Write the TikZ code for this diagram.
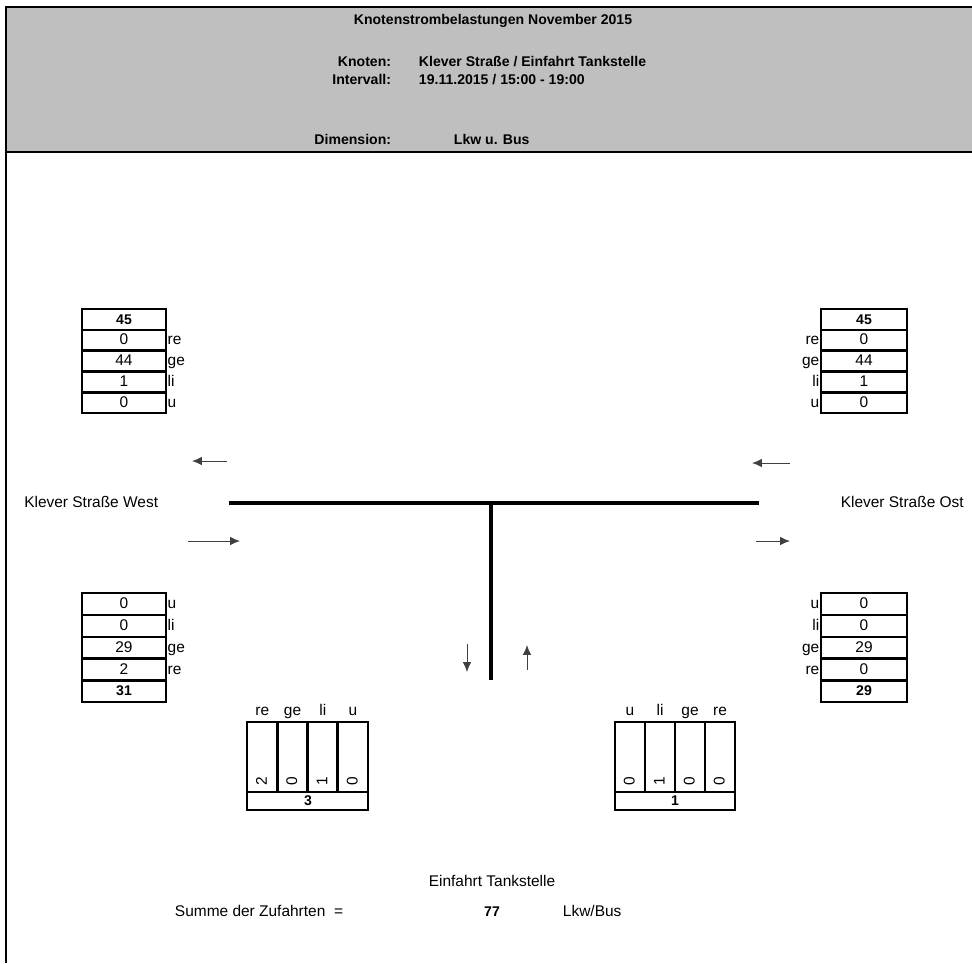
\documentclass[tikz,border=0pt]{standalone}
\usepackage{fontspec}
\setmainfont{Liberation Sans}
\usetikzlibrary{arrows,arrows.meta,positioning,calc}

\begin{document}
\begin{tikzpicture}[x=0.025cm, y=-0.025cm,
    font=\fontsize{11}{13}\selectfont,
    every node/.style={text height=1.55ex, text depth=0.3ex},
    frame/.style={line width=1.8pt},
    cell/.style={line width=1.8pt},
    road/.style={line width=3.2pt},
    flow/.style={-{Latex[length=7pt,width=6pt]}, black!75, line width=0.7pt}]
    \useasboundingbox (0,0) rectangle (972,963);

    % Header
    \fill[gray!50] (6,7) rectangle (972,152);
    \draw[frame] (972,7) -- (6,7) -- (6,963);
    \draw[frame] (6,152) -- (972,152);
    \node[font=\bfseries] (title) at (493,20) {Knotenstrombelastungen November 2015};
    \node[anchor=east, font=\bfseries] (knoten) at (396,62) {Knoten:};
    \node[anchor=west, font=\bfseries] (knotenval) at (414,62) {Klever Straße / Einfahrt Tankstelle};
    \node[anchor=east, font=\bfseries] (intervall) at (396,80) {Intervall:};
    \node[anchor=west, font=\bfseries] (intervallval) at (414,80) {19.11.2015 / 15:00 - 19:00};
    \node[anchor=east, font=\bfseries] (dimension) at (396,140) {Dimension:};
    \node[anchor=west, font=\bfseries] (dimensionval) at (449,140) {Lkw u. Bus};

    % Roads
    \draw[road] (229,503) -- (759,503);
    \draw[road] (491,503) -- (491,680);
    \node[anchor=west, inner sep=0pt] (west) at (24,503) {Klever Straße West};
    \node[anchor=east, inner sep=0pt] (ost) at (964,503) {Klever Straße Ost};
    \node (tankstelle) at (492,882) {Einfahrt Tankstelle};

    % Direction arrows
    \draw[flow] (227,461) -- (192,461);
    \draw[flow] (188,541) -- (240,541);
    \draw[flow] (790,463) -- (752,463);
    \draw[flow] (756,541) -- (790,541);
    \draw[flow] (467,644) -- (467,672);
    \draw[flow] (527,670) -- (527,645);

    % West approach, top (outgoing)
    \draw[cell] (82,309) rectangle (166,330);
    \node[font=\bfseries] (wOut) at (124,319.5) {45};
    \foreach \v/\l [count=\i] in {0/re,44/ge,1/li,0/u} {
        \draw[cell] (82,309+20.8*\i) rectangle (166,330+20.8*\i);
        \node at (124,319.5+20.8*\i) {\v};
        \node[anchor=west, inner sep=1pt] at (166,319.5+20.8*\i) {\l};
    }

    % East approach, top (outgoing)
    \draw[cell] (821,309) rectangle (907,330);
    \node[font=\bfseries] (oOut) at (864,319.5) {45};
    \foreach \v/\l [count=\i] in {0/re,44/ge,1/li,0/u} {
        \draw[cell] (821,309+20.8*\i) rectangle (907,330+20.8*\i);
        \node at (864,319.5+20.8*\i) {\v};
        \node[anchor=east, inner sep=1pt] at (821,319.5+20.8*\i) {\l};
    }

    % West approach, bottom (incoming)
    \foreach \v/\l [count=\i] in {0/u,0/li,29/ge,2/re} {
        \draw[cell] (82,571.4+21.8*\i) rectangle (166,593.2+21.8*\i);
        \node at (124,582.3+21.8*\i) {\v};
        \node[anchor=west, inner sep=1pt] at (166,582.3+21.8*\i) {\l};
    }
    \draw[cell] (82,680.4) rectangle (166,702);
    \node[font=\bfseries] (wIn) at (124,691) {31};

    % East approach, bottom (incoming)
    \foreach \v/\l [count=\i] in {0/u,0/li,29/ge,0/re} {
        \draw[cell] (821,571.4+21.8*\i) rectangle (907,593.2+21.8*\i);
        \node at (864,582.3+21.8*\i) {\v};
        \node[anchor=east, inner sep=1pt] at (821,582.3+21.8*\i) {\l};
    }
    \draw[cell] (821,680.4) rectangle (907,702);
    \node[font=\bfseries] (oIn) at (864,691) {29};

    % Tankstelle, outgoing
    \foreach \v/\l [count=\i] in {2/re,0/ge,1/li,0/u} {
        \draw[cell] (247+30.25*\i-30.25,722) rectangle (247+30.25*\i,792);
        \node[rotate=90] at (232+30.25*\i,781) {\v};
        \node at (232+30.25*\i,711) {\l};
    }
    \draw[cell] (247,792) rectangle (368,810);
    \node[font=\bfseries] (tOut) at (308,801) {3};

    % Tankstelle, incoming
    \foreach \v/\l [count=\i] in {0/u,1/li,0/ge,0/re} {
        \draw[cell] (615+30*\i-30,722) rectangle (615+30*\i,792);
        \node[rotate=90] at (600+30*\i,781) {\v};
        \node at (600+30*\i,711) {\l};
    }
    \draw[cell] (615,792) rectangle (735,810);
    \node[font=\bfseries] (tIn) at (675,801) {1};

    % Sum
    \node[anchor=west] (summe) at (170,912) {Summe der Zufahrten \ =};
    \node[font=\bfseries] (summeval) at (492,912) {77};
    \node[anchor=west] (einheit) at (558,912) {Lkw/Bus};
\end{tikzpicture}
\end{document}
